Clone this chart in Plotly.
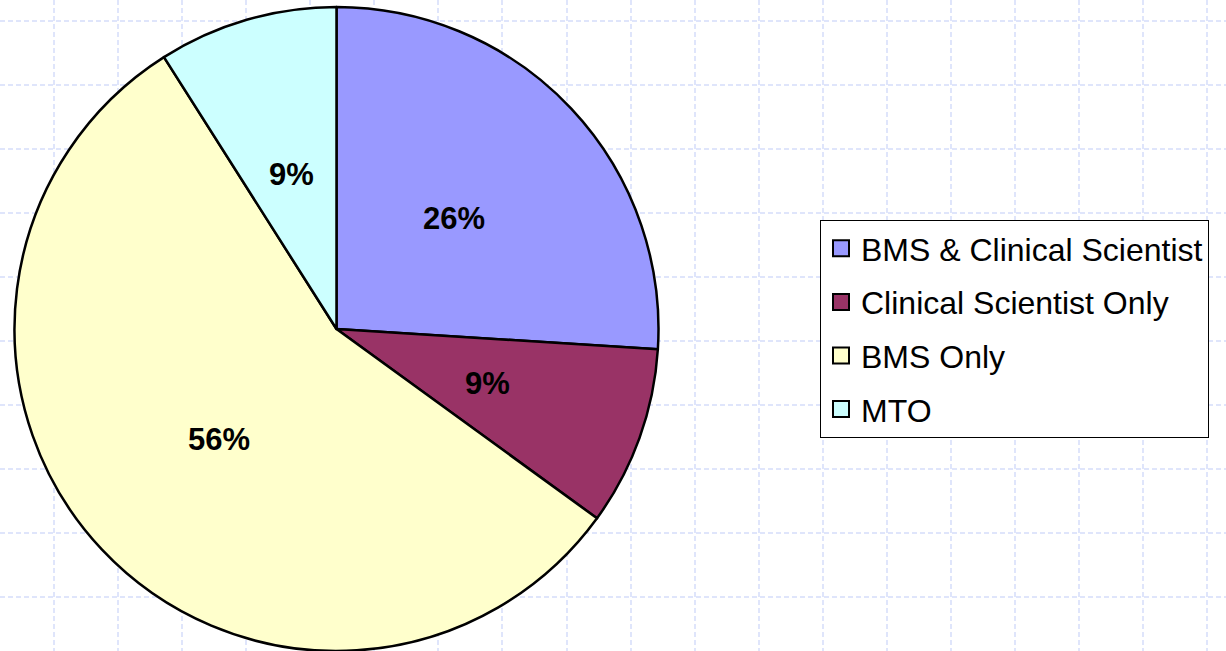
import math
import plotly.graph_objects as go

labels = ["BMS & Clinical Scientist", "Clinical Scientist Only", "BMS Only", "MTO"]
values = [26, 9, 56, 9]
colors = ["#9999FF", "#993366", "#FFFFCC", "#CCFFFF"]

W, H = 1226, 651
PIE_X = [14, 659]   # pixel extent of pie domain
PIE_Y = [7, 651]

fig = go.Figure()

fig.add_trace(go.Pie(
    labels=labels, values=values, sort=False, direction="clockwise", rotation=0,
    marker=dict(colors=colors, line=dict(color="black", width=2.5)),
    textinfo="none",
    domain=dict(x=[PIE_X[0] / W, PIE_X[1] / W], y=[1 - PIE_Y[1] / H, 1 - PIE_Y[0] / H]),
    showlegend=False, hoverinfo="label+percent",
))

# percentage labels placed at half radius along each slice bisector (Excel style)
cx = (PIE_X[0] + PIE_X[1]) / 2
cy = (PIE_Y[0] + PIE_Y[1]) / 2
r = min(PIE_X[1] - PIE_X[0], PIE_Y[1] - PIE_Y[0]) / 2
total = sum(values)
cum = 0
for v in values:
    mid = (cum + v / 2) / total * 2 * math.pi
    cum += v
    fig.add_annotation(
        x=cx + 0.5 * r * math.sin(mid), y=cy - 0.5 * r * math.cos(mid),
        xref="x", yref="y", text=f"{round(100 * v / total)}%", showarrow=False,
        xanchor="center", yanchor="middle",
        font=dict(family="Arial, Liberation Sans", size=31, color="black", weight="bold"),
    )

for lab, col in zip(labels, colors):
    fig.add_trace(go.Scatter(
        x=[None], y=[None], mode="markers", name=lab, legendgroup=lab,
        marker=dict(symbol="square", size=16, color=col, line=dict(color="black", width=2)),
        showlegend=True,
    ))

grid = dict(showgrid=True, gridcolor="#dfe5fb", gridwidth=1.5, griddash="5px,3px",
            zeroline=False, showticklabels=False, ticks="", showline=False, fixedrange=True)
fig.update_xaxes(range=[0, W], tick0=54, dtick=64.07, **grid)
fig.update_yaxes(range=[H, 0], tick0=21, dtick=64.0, **grid)

fig.update_layout(
    width=W, height=H, margin=dict(l=0, r=0, t=0, b=0),
    paper_bgcolor="white", plot_bgcolor="white",
    legend=dict(x=820 / W, xanchor="left", y=1 - 220 / H, yanchor="top",
                bgcolor="white", bordercolor="black", borderwidth=1,
                font=dict(family="Arial, Liberation Sans", size=32, color="black"),
                tracegroupgap=9, itemsizing="trace",
                entrywidth=420, entrywidthmode="pixels"),
)

fig.write_html("out.html", config={"displayModeBar": False},
               post_script="document.body.style.margin='0';")
